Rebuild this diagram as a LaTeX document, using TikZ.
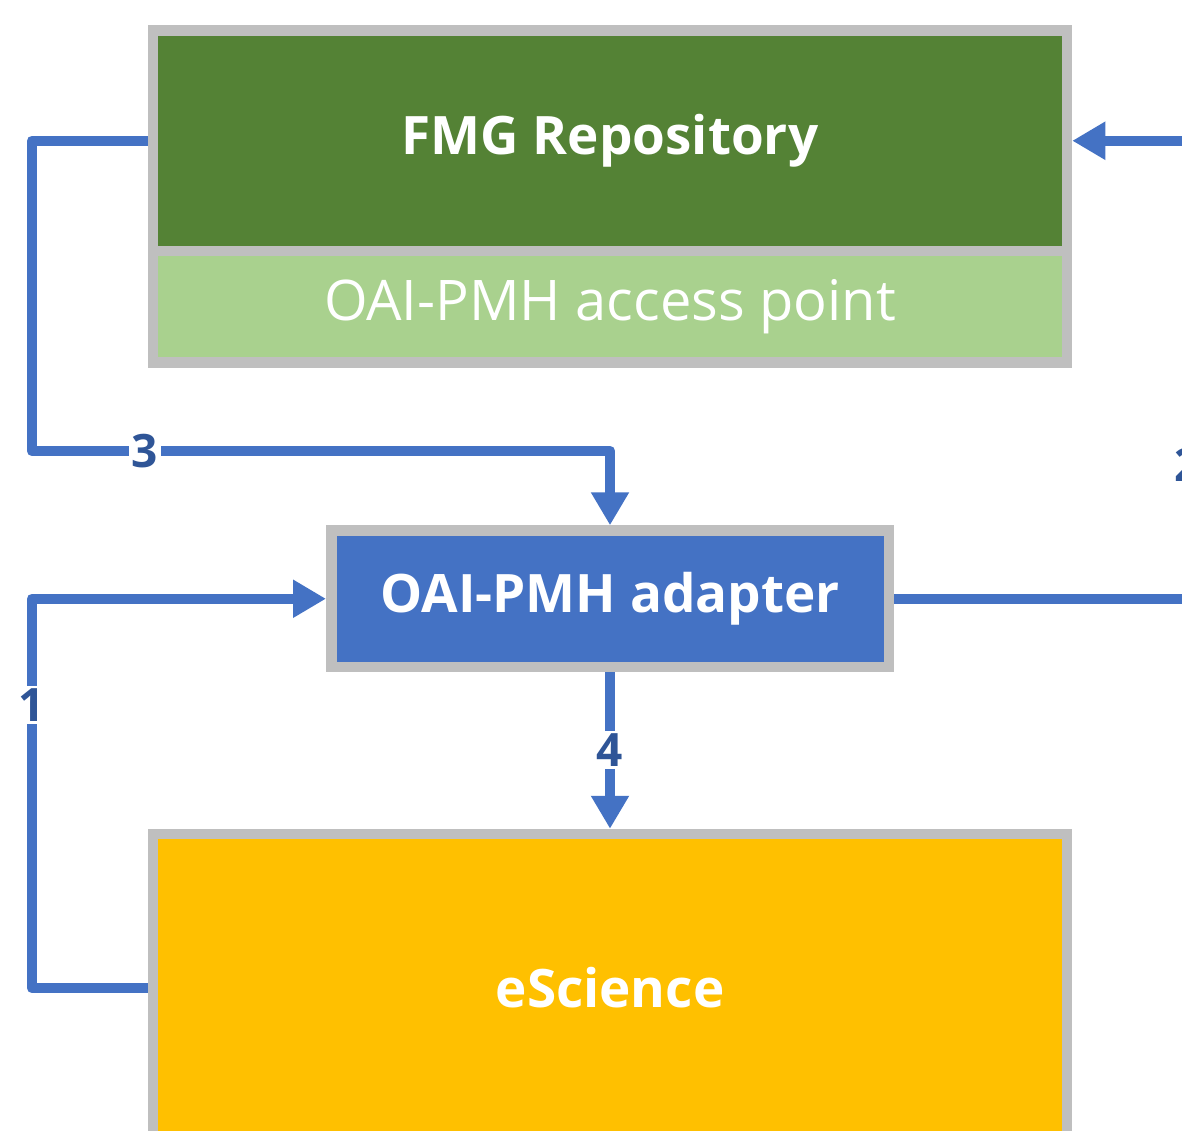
\documentclass[tikz,border=0pt]{standalone}
\usepackage{fontspec}
\setmainfont{Open Sans}
\usetikzlibrary{arrows.meta}
\definecolor{dkgreen}{HTML}{548235}
\definecolor{ltgreen}{HTML}{A9D18E}
\definecolor{boxgray}{HTML}{BFBFBF}
\definecolor{myblue}{HTML}{4472C4}
\definecolor{lblblue}{HTML}{2F5597}
\definecolor{myorange}{HTML}{FFC000}
\begin{document}
\begin{tikzpicture}[x=1pt,y=-1pt,
  box/.style={draw=boxgray,line width=10.5pt,text=white,inner sep=0pt,rectangle},
  conn/.style={draw=myblue,line width=10.5pt,line join=round},
  arr/.style={-{Triangle[width=36pt,length=33pt]}},
  lbl/.style={fill=white,text=lblblue,font=\fontsize{46}{46}\selectfont\bfseries,inner sep=3pt}]
\useasboundingbox (0,0) rectangle (1182,1130);
\fill[white] (0,0) rectangle (1182,1130);
% boxes
\node[box,fill=dkgreen,minimum width=914pt,minimum height=220.5pt,font=\fontsize{53}{53}\selectfont\bfseries] (fmg) at (610,140.75) {\raisebox{-3pt}{FMG Repository}};
\node[box,fill=ltgreen,minimum width=914pt,minimum height=111.5pt,font=\fontsize{56}{56}\selectfont] (oai) at (610,306.75) {\raisebox{-3pt}{OAI-PMH access point}};
\node[box,fill=myblue,minimum width=557.5pt,minimum height=136.5pt,font=\fontsize{53}{53}\selectfont\bfseries] (adapter) at (610,598.75) {\raisebox{-3pt}{OAI-PMH adapter}};
\node[box,fill=myorange,minimum width=914pt,minimum height=308pt,font=\fontsize{53}{53}\selectfont\bfseries] (escience) at (610,988) {eScience};
% helper coordinates
\coordinate (k3) at (32,451);
\coordinate (k1) at (32,800);
\coordinate (k2) at (1187,400);
% connectors
\draw[conn,arr] (fmg.west) -| (k3) -| (adapter.north);
\draw[conn,arr] (escience.west) -| (k1) |- (adapter.west);
\draw[conn,arr] (adapter.east) -| (k2) |- (fmg.east);
\draw[conn,arr] (adapter.south) -- (adapter.south |- escience.north);
% labels
\node[lbl] (l3) at (145,451) {3};
\node[lbl] (l1) at (32,705) {1};
\node[lbl] (l2) at (1188,465) {2};
\node[lbl] (l4) at (610,750) {4};
\end{tikzpicture}
\end{document}
